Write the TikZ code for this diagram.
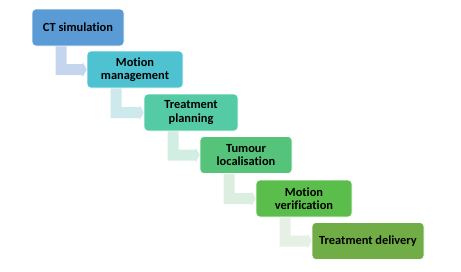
\documentclass[tikz,border=0pt]{standalone}
\usepackage{fontspec}
\setmainfont{Carlito}[Ligatures={NoCommon}]
\usetikzlibrary{calc}
\definecolor{c1}{HTML}{5B9BD5}
\definecolor{c2}{HTML}{4EC2D0}
\definecolor{c3}{HTML}{55CBA5}
\definecolor{c4}{HTML}{55C37A}
\definecolor{c5}{HTML}{5BBE4C}
\definecolor{c6}{HTML}{70AD47}
\definecolor{a1}{HTML}{C5D5EE}
\definecolor{a2}{HTML}{CDE9EC}
\definecolor{a3}{HTML}{D2EEE2}
\definecolor{a4}{HTML}{DCEEDF}
\definecolor{a5}{HTML}{E6F0E4}
\tikzset{
  stepbox/.style={rounded corners=4pt, draw=white, line width=0.6pt, inner sep=0pt,
    minimum height=37pt, align=center, font=\fontsize{12.4}{13.6}\selectfont\bfseries, text=black},
}
\newcommand{\bentarrow}[3]{%
  \fill[#3] let \p1=(#1.south west), \p2=(#2.west) in
    (\x1+24pt,\y1) -- (\x1+35pt,\y1) -- (\x1+35pt,\y2+5.5pt) -- (\x2-4pt,\y2+5.5pt)
    -- (\x2-4pt,\y2+7.5pt) -- (\x2,\y2) -- (\x2-4pt,\y2-7.5pt) -- (\x2-4pt,\y2-5.5pt)
    -- (\x1+24pt,\y2-5.5pt) -- cycle;}
\begin{document}
\begin{tikzpicture}[x=1pt,y=-1pt]
\useasboundingbox (0,0) rectangle (461,271);
\node[stepbox, fill=c1, minimum width=92pt] (s1) at (78,27.5) {CT simulation};
\node[stepbox, fill=c2, minimum width=96pt] (s2) at (135,69.5) {Motion\\management};
\node[stepbox, fill=c3, minimum width=94pt] (s3) at (191,112.5) {Treatment\\planning};
\node[stepbox, fill=c4, minimum width=92pt] (s4) at (246,155) {Tumour\\localisation};
\node[stepbox, fill=c5, minimum width=96pt] (s5) at (304,198.5) {Motion\\verification};
\node[stepbox, fill=c6, minimum width=112pt] (s6) at (368,241) {Treatment delivery};
\bentarrow{s1}{s2}{a1}
\bentarrow{s2}{s3}{a2}
\bentarrow{s3}{s4}{a3}
\bentarrow{s4}{s5}{a4}
\bentarrow{s5}{s6}{a5}
\end{tikzpicture}
\end{document}
